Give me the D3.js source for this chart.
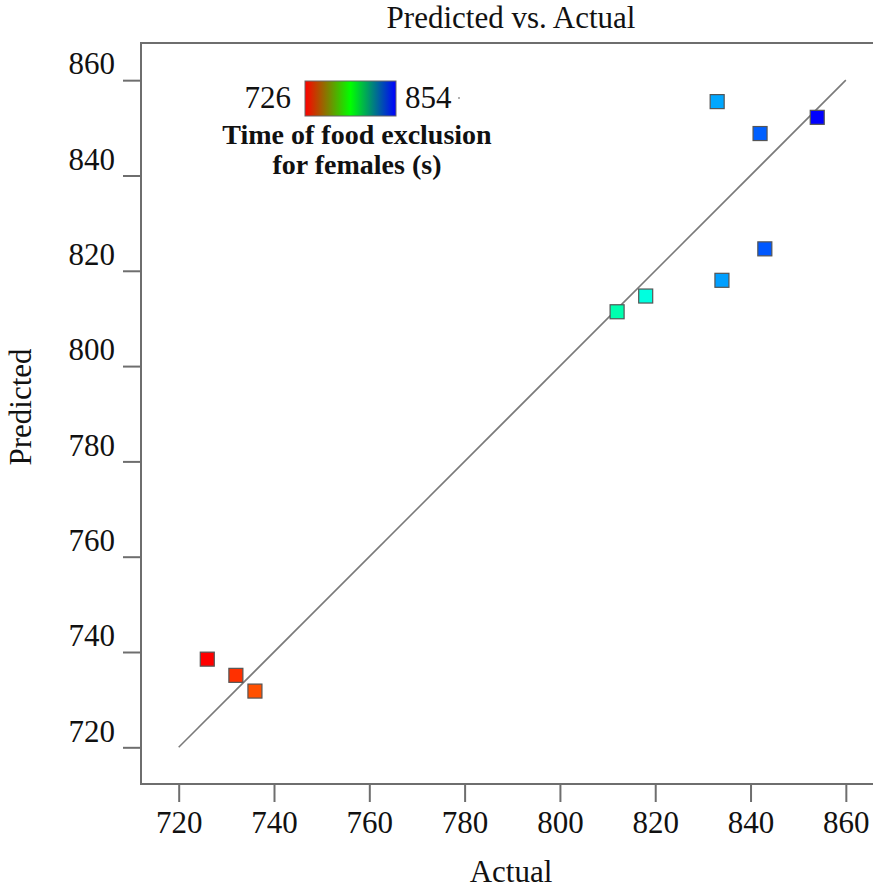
<!DOCTYPE html>
<html lang="en">
  <head>
    <meta charset="utf-8">
    <script src="https://cdn.jsdelivr.net/npm/d3@7"></script>
    <style>
      body{ margin:0; background:#fff; }
      svg{ display:block; font-family:"Liberation Serif","Times New Roman",serif; }
    </style>
  </head>
  <body>
    <svg></svg>
  <script>
    // values
    var actual    = [726, 732, 736, 812, 818, 833, 834, 842, 843, 854];
    var predicted = [738.5, 735.1, 731.8, 811.4, 814.7, 855.5, 818.0, 848.8, 824.6, 852.2];
    var ticks = [720, 740, 760, 780, 800, 820, 840, 860];
    var colorRange = [726, 854];

    var svgwidth = 873, svgheight = 891;
    var svg = d3.select('svg').attr('width', svgwidth).attr('height', svgheight);

    var plotLeft = 141, plotTop = 43, plotRight = 873, plotBottom = 784;

    var xScale = d3.scaleLinear().domain([712.09, 865.7]).range([plotLeft, plotRight]);
    var yScale = d3.scaleLinear().domain([712.3, 867.8]).range([plotBottom, plotTop]);

    var hue = d3.scaleLinear().domain(colorRange).range([0, 240]);
    var color = function(v){ return d3.hsl(hue(v), 1, 0.5).formatHex(); };

    var axisColor = '#6e6e6e';
    var fontSize = 31;

    // x axis
    var xAxis = d3.axisBottom(xScale).tickValues(ticks).tickSize(18).tickPadding(9).tickFormat(d3.format('d'));
    var gx = svg.append('g').attr('transform', 'translate(0,' + plotBottom + ')').call(xAxis);
    gx.select('.domain').remove();
    gx.selectAll('line').attr('stroke', axisColor).attr('stroke-width', 2);
    gx.selectAll('text').attr('font-size', fontSize).attr('fill', '#111')
      .attr('font-family', '"Liberation Serif","Times New Roman",serif');

    // y axis
    var yAxis = d3.axisLeft(yScale).tickValues(ticks).tickSize(18).tickPadding(8).tickFormat(d3.format('d'));
    var gy = svg.append('g').attr('transform', 'translate(' + plotLeft + ',0)').call(yAxis);
    gy.select('.domain').remove();
    gy.selectAll('line').attr('stroke', axisColor).attr('stroke-width', 2);
    gy.selectAll('text').attr('font-size', fontSize).attr('fill', '#111').attr('dy', '-0.2em')
      .attr('font-family', '"Liberation Serif","Times New Roman",serif');

    // frame (left, bottom, top)
    svg.append('path')
       .attr('d', 'M' + plotRight + ',' + plotTop + 'H' + plotLeft + 'V' + plotBottom + 'H' + plotRight)
       .attr('fill', 'none').attr('stroke', axisColor).attr('stroke-width', 2);

    // reference line
    svg.append('line')
       .attr('x1', xScale(720)).attr('y1', yScale(720))
       .attr('x2', xScale(860)).attr('y2', yScale(860))
       .attr('stroke', '#7a7a7a').attr('stroke-width', 1.6);

    // points
    var size = 14;
    svg.selectAll('.pt').data(actual).enter().append('rect')
       .classed('pt', true)
       .attr('x', function(d){ return xScale(d) - size/2; })
       .attr('y', function(d, i){ return yScale(predicted[i]) - size/2; })
       .attr('width', size).attr('height', size)
       .attr('fill', function(d){ return color(d); })
       .attr('stroke', '#555').attr('stroke-width', 1.2);

    // title and axis labels
    svg.append('text').attr('x', 511).attr('y', 28).attr('text-anchor', 'middle')
       .attr('font-size', fontSize).attr('fill', '#111').text('Predicted vs. Actual');
    svg.append('text').attr('x', 511).attr('y', 882).attr('text-anchor', 'middle')
       .attr('font-size', fontSize).attr('fill', '#111').text('Actual');
    svg.append('text').attr('transform', 'translate(31,407) rotate(-90)').attr('text-anchor', 'middle')
       .attr('font-size', fontSize).attr('fill', '#111').text('Predicted');

    // colour legend
    var defs = svg.append('defs');
    var grad = defs.append('linearGradient').attr('id', 'legend-grad')
                   .attr('x1', '0%').attr('y1', '0%').attr('x2', '100%').attr('y2', '0%');
    grad.append('stop').attr('offset', '0%').attr('stop-color', '#ff0000');
    grad.append('stop').attr('offset', '50%').attr('stop-color', '#00ff00');
    grad.append('stop').attr('offset', '100%').attr('stop-color', '#0000ff');

    svg.append('rect').attr('x', 305).attr('y', 81).attr('width', 91).attr('height', 35)
       .attr('fill', 'url(#legend-grad)').attr('stroke', '#666').attr('stroke-width', 1);
    svg.append('text').attr('x', 291).attr('y', 108).attr('text-anchor', 'end')
       .attr('font-size', fontSize).attr('fill', '#111').text(colorRange[0]);
    svg.append('text').attr('x', 405).attr('y', 108).attr('text-anchor', 'start')
       .attr('font-size', fontSize).attr('fill', '#111').text(colorRange[1]);
    svg.append('circle').attr('cx', 459).attr('cy', 98).attr('r', 1).attr('fill', '#999');
    svg.append('text').attr('x', 357).attr('y', 144).attr('text-anchor', 'middle')
       .attr('font-size', 28).attr('font-weight', 'bold').attr('fill', '#111').text('Time of food exclusion');
    svg.append('text').attr('x', 357).attr('y', 174).attr('text-anchor', 'middle')
       .attr('font-size', 28).attr('font-weight', 'bold').attr('fill', '#111').text('for females (s)');
  </script>
  </body>
</html>
